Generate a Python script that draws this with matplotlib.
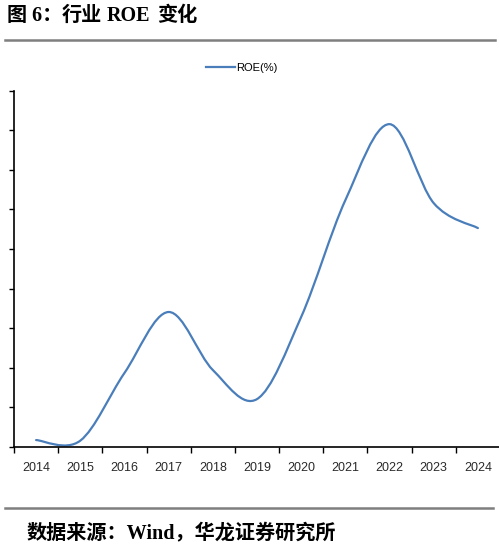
import numpy as np
import matplotlib
matplotlib.use('Agg')
import matplotlib.pyplot as plt
from matplotlib.path import Path
from matplotlib.patches import PathPatch
from matplotlib.lines import Line2D

plt.rcParams['font.family'] = ['Liberation Sans', 'Noto Sans CJK SC', 'DejaVu Sans']

years = ['2014', '2015', '2016', '2017', '2018', '2019', '2020', '2021', '2022', '2023', '2024']
roe = [0.35, 0.32, 3.74, 6.82, 3.89, 2.42, 6.57, 12.47, 16.31, 12.32, 11.06]
series_name = 'ROE(%)'
title_parts = ['图 6：', '行业', 'ROE', '变化']
title_x = [7, 62, 107, 157]  # pixel starts of title pieces
source = '数据来源：Wind，华龙证券研究所'

line_color = '#4a7ebb'

fig = plt.figure(figsize=(4.99, 5.48), dpi=100)
ax = fig.add_axes([14 / 499, 1 - 447 / 548, 486 / 499, (447 - 90.7) / 548])

# smoothed line (Excel-like Catmull-Rom through the points)
x = np.arange(len(years), dtype=float)
y = np.array(roe, dtype=float)
px = np.concatenate([[x[0]], x, [x[-1]]])
py = np.concatenate([[y[0]], y, [y[-1]]])
verts = [(x[0], y[0])]
codes = [Path.MOVETO]
for i in range(len(x) - 1):
    c1 = (px[i + 1] + (px[i + 2] - px[i]) / 6, py[i + 1] + (py[i + 2] - py[i]) / 6)
    c2 = (px[i + 2] - (px[i + 3] - px[i + 1]) / 6, py[i + 2] - (py[i + 3] - py[i + 1]) / 6)
    verts += [c1, c2, (x[i + 1], y[i + 1])]
    codes += [Path.CURVE4] * 3
ax.add_patch(PathPatch(Path(verts, codes), fill=False, edgecolor=line_color, lw=1.6,
                       capstyle='round', joinstyle='round'))
ax.plot([], [], color=line_color, lw=1.6, label=series_name)

ax.set_xlim(-0.5, len(years) - 0.5)
ax.set_ylim(0, 18)
ax.set_yticks(np.arange(0, 19, 2))
ax.set_yticklabels([])
ax.set_xticks(x)
ax.set_xticklabels(years, fontsize=9, color='#2a2a2a')
ax.set_xticks(np.arange(len(years) + 1) - 0.5, minor=True)
ax.tick_params(axis='x', which='major', length=0, pad=11)
ax.tick_params(axis='x', which='minor', length=4, width=1, direction='out')
ax.tick_params(axis='y', length=3.5, width=1, direction='out')
for s in ['top', 'right']:
    ax.spines[s].set_visible(False)
for s in ['left', 'bottom']:
    ax.spines[s].set_linewidth(1.2)
    ax.spines[s].set_color('black')

ax.legend(loc='center', bbox_to_anchor=(242 / 499, 1 - 68 / 548),
          bbox_transform=fig.transFigure, frameon=False, fontsize=8,
          handlelength=2.6, handletextpad=0.1)

serif_cjk = ['Liberation Serif', 'Noto Sans CJK SC']
for part, px0 in zip(title_parts, title_x):
    fig.text(px0 / 499, 1 - 16 / 548, part, fontsize=14.5, fontweight='bold',
             family=serif_cjk, va='center', ha='left')
fig.add_artist(Line2D([5 / 499, 495 / 499], [1 - 40 / 548, 1 - 40 / 548],
                      color='#7f7f7f', lw=1.8, transform=fig.transFigure))
fig.add_artist(Line2D([5 / 499, 493 / 499], [1 - 508 / 548, 1 - 508 / 548],
                      color='#7f7f7f', lw=1.8, transform=fig.transFigure))
fig.text(27 / 499, 1 - 533 / 548, source, fontsize=14.5, fontweight='bold',
         family=serif_cjk, va='center', ha='left')

fig.savefig('out.png', dpi=100)
